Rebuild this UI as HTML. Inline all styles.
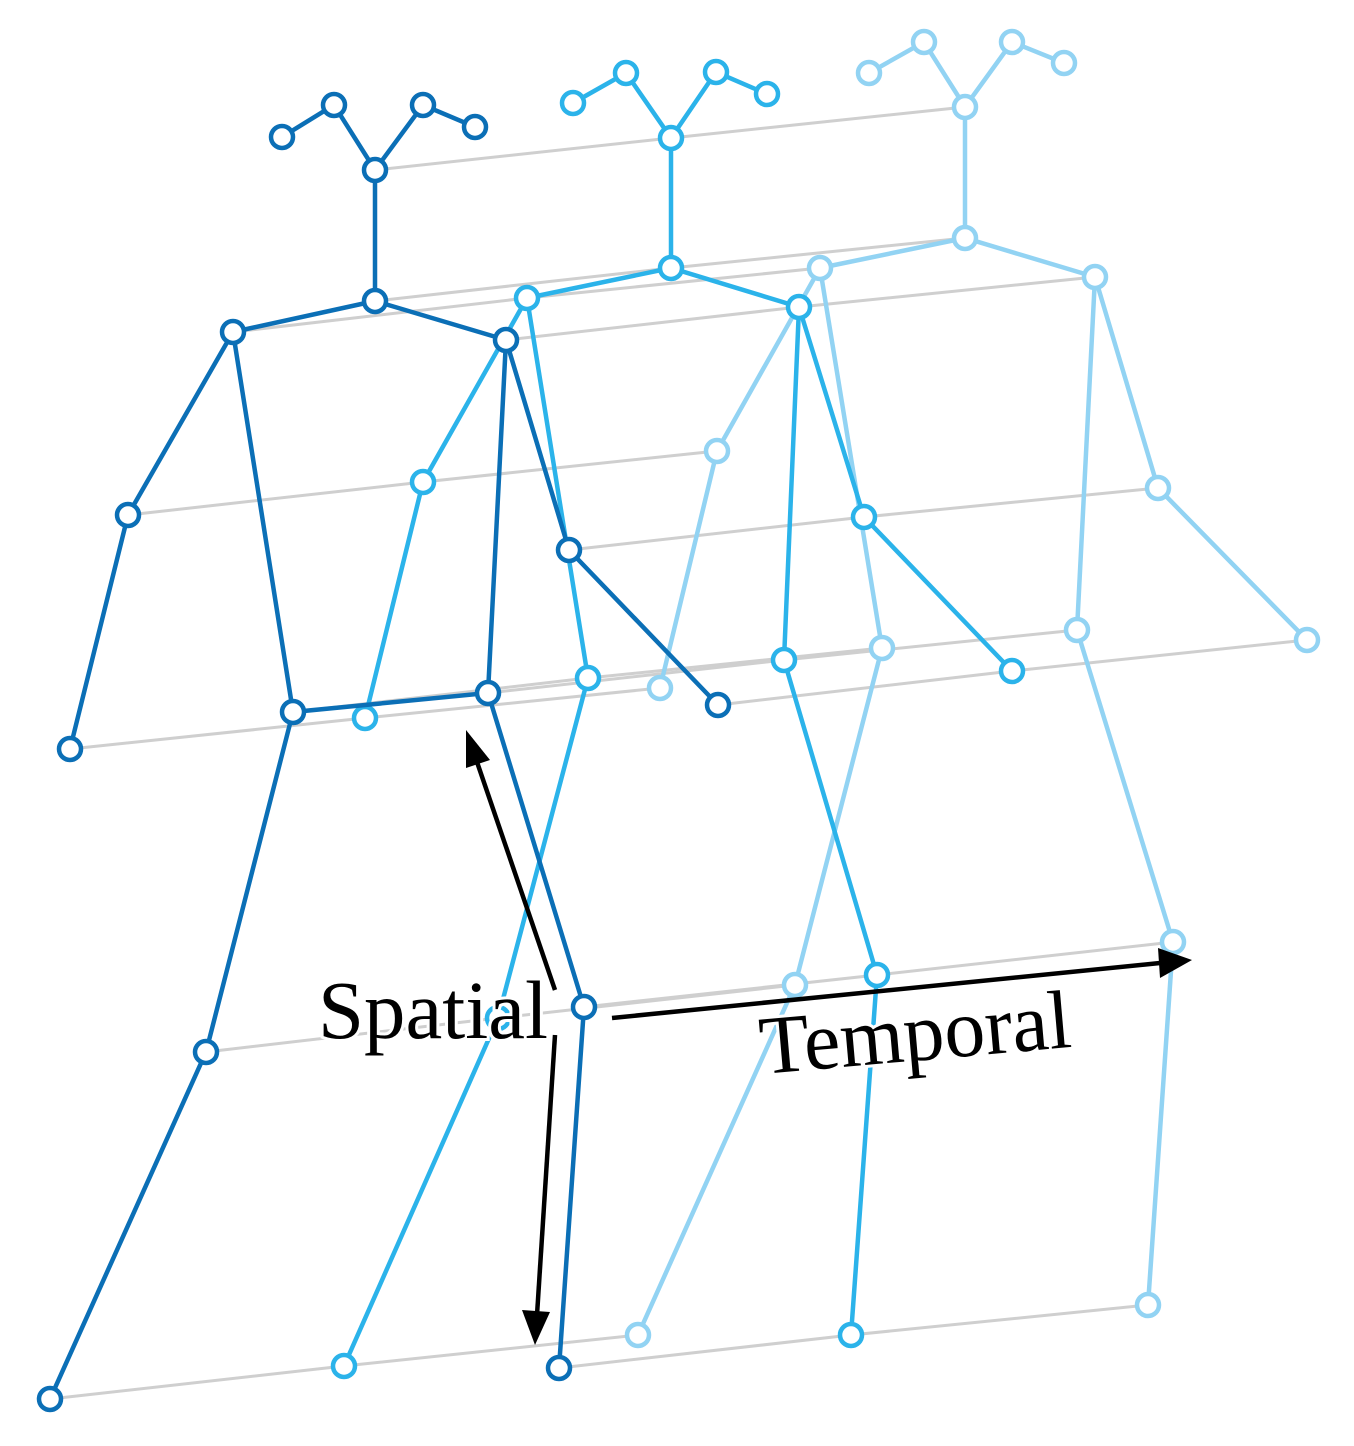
<!DOCTYPE html>
<html><head><style>html,body{margin:0;padding:0;background:#fff}svg{display:block}</style></head>
<body>
<svg width="1354" height="1446" viewBox="0 0 1354 1446" xmlns="http://www.w3.org/2000/svg">
<g stroke="#cfcfcf" stroke-width="3" fill="none">
<polyline points="375,170 671,138 965,107"/>
<polyline points="375,301 671,268 965,238"/>
<polyline points="233,332 527,298 820,268"/>
<polyline points="506,340 799,307 1095,277"/>
<polyline points="128,515 423,482 717,451"/>
<polyline points="569,550 864,517 1158,488"/>
<polyline points="70,749 365,718 660,688"/>
<polyline points="718,705 1012,671 1307,640"/>
<polyline points="293,712 588,678 882,648"/>
<polyline points="488,693 784,660 1077,630"/>
<polyline points="206,1052 498,1018 795,985"/>
<polyline points="584,1007 877,975 1173,942"/>
<polyline points="50,1399 344,1366 638,1335"/>
<polyline points="559,1368 851,1335 1148,1305"/>
</g>
<g stroke="#92d3f3" stroke-width="4.5" fill="none">
<polyline points="869,73 924,42 965,107 1012,42 1064,63"/>
<line x1="965" y1="107" x2="965" y2="238"/>
<polyline points="820,268 965,238 1095,277"/>
<polyline points="820,268 717,451 660,688"/>
<polyline points="1095,277 1158,488 1307,640"/>
<polyline points="820,268 882,648 795,985 638,1335"/>
<polyline points="1095,277 1077,630 1173,942 1148,1305"/>
</g>
<g stroke="#92d3f3" stroke-width="4.5" fill="#fff">
<circle cx="869" cy="73" r="11"/><circle cx="924" cy="42" r="11"/><circle cx="965" cy="107" r="11"/><circle cx="1012" cy="42" r="11"/><circle cx="1064" cy="63" r="11"/>
<circle cx="965" cy="238" r="11"/><circle cx="820" cy="268" r="11"/><circle cx="1095" cy="277" r="11"/>
<circle cx="717" cy="451" r="11"/><circle cx="660" cy="688" r="11"/><circle cx="1158" cy="488" r="11"/><circle cx="1307" cy="640" r="11"/>
<circle cx="882" cy="648" r="11"/><circle cx="795" cy="985" r="11"/><circle cx="638" cy="1335" r="11"/>
<circle cx="1077" cy="630" r="11"/><circle cx="1173" cy="942" r="11"/><circle cx="1148" cy="1305" r="11"/>
</g>
<g stroke="#2bb3ea" stroke-width="4.5" fill="none">
<polyline points="573,103 626,73 671,138 716,72 767,94"/>
<line x1="671" y1="138" x2="671" y2="268"/>
<polyline points="527,298 671,268 799,307"/>
<polyline points="527,298 423,482 365,718"/>
<polyline points="799,307 864,517 1012,671"/>
<polyline points="527,298 588,678 498,1018 344,1366"/>
<polyline points="799,307 784,660 877,975 851,1335"/>
</g>
<g stroke="#2bb3ea" stroke-width="4.5" fill="#fff">
<circle cx="573" cy="103" r="11"/><circle cx="626" cy="73" r="11"/><circle cx="671" cy="138" r="11"/><circle cx="716" cy="72" r="11"/><circle cx="767" cy="94" r="11"/>
<circle cx="671" cy="268" r="11"/><circle cx="527" cy="298" r="11"/><circle cx="799" cy="307" r="11"/>
<circle cx="423" cy="482" r="11"/><circle cx="365" cy="718" r="11"/><circle cx="864" cy="517" r="11"/><circle cx="1012" cy="671" r="11"/>
<circle cx="588" cy="678" r="11"/><circle cx="498" cy="1018" r="11"/><circle cx="344" cy="1366" r="11"/>
<circle cx="784" cy="660" r="11"/><circle cx="877" cy="975" r="11"/><circle cx="851" cy="1335" r="11"/>
</g>
<g stroke="#0b6fb6" stroke-width="4.5" fill="none">
<polyline points="282,137 334,105 375,170 423,105 475,127"/>
<line x1="375" y1="170" x2="375" y2="301"/>
<polyline points="233,332 375,301 506,340"/>
<polyline points="233,332 128,515 70,749"/>
<polyline points="506,340 569,550 718,705"/>
<polyline points="233,332 293,712 488,693 506,340"/>
<polyline points="293,712 206,1052 50,1399"/>
<polyline points="488,693 584,1007 559,1368"/>
</g>
<g stroke="#0b6fb6" stroke-width="4.5" fill="#fff">
<circle cx="282" cy="137" r="11"/><circle cx="334" cy="105" r="11"/><circle cx="375" cy="170" r="11"/><circle cx="423" cy="105" r="11"/><circle cx="475" cy="127" r="11"/>
<circle cx="375" cy="301" r="11"/><circle cx="233" cy="332" r="11"/><circle cx="506" cy="340" r="11"/>
<circle cx="128" cy="515" r="11"/><circle cx="70" cy="749" r="11"/><circle cx="569" cy="550" r="11"/><circle cx="718" cy="705" r="11"/>
<circle cx="293" cy="712" r="11"/><circle cx="206" cy="1052" r="11"/><circle cx="50" cy="1399" r="11"/>
<circle cx="488" cy="693" r="11"/><circle cx="584" cy="1007" r="11"/><circle cx="559" cy="1368" r="11"/>
</g>
<g stroke="#000" stroke-width="4.5" fill="#000">
<line x1="555" y1="990" x2="477" y2="762"/>
<polygon points="466,730 490,760 466,768" stroke="none"/>
<line x1="555" y1="1035" x2="537" y2="1315"/>
<polygon points="535,1345 522,1310 550,1312" stroke="none"/>
<line x1="612" y1="1018" x2="1160" y2="963"/>
<polygon points="1192,960 1158,948 1160,978" stroke="none"/>
</g>
<text x="318" y="1038" font-family="Liberation Serif, serif" font-size="83" fill="#000" stroke="#fff" stroke-width="6" paint-order="stroke" textLength="230" lengthAdjust="spacingAndGlyphs">Spatial</text>
<text x="762" y="1074" font-family="Liberation Serif, serif" font-size="83" fill="#000" stroke="#fff" stroke-width="6" paint-order="stroke" transform="rotate(-5 762 1074)" textLength="312" lengthAdjust="spacingAndGlyphs">Temporal</text>
</svg>
</body></html>
